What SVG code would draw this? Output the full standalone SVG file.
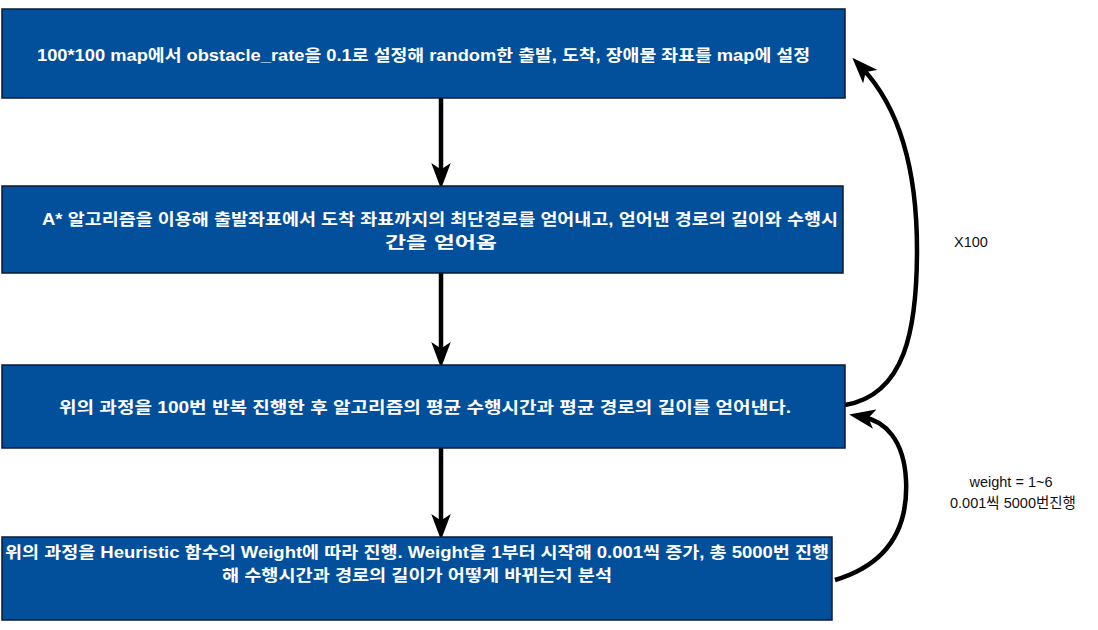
<svg xmlns="http://www.w3.org/2000/svg" width="1098" height="630" viewBox="0 0 1098 630">
<style>
.box{fill:#024f9b;stroke:#0a1a33;stroke-width:1.5}
.t{font-family:"Liberation Sans","Noto Sans CJK KR",sans-serif;font-weight:bold;font-size:16px;fill:#ffffff}
.lbl{font-family:"Liberation Sans","Noto Sans CJK KR",sans-serif;font-size:14.5px;fill:#111111;text-anchor:middle}
.e{fill:none;stroke:#000000;stroke-width:4.5}
</style>
<defs>
<marker id="ah" markerUnits="userSpaceOnUse" markerWidth="26" markerHeight="20" refX="11" refY="9" orient="auto" viewBox="0 0 24 18">
<path d="M0,0 L24,9 L0,18 L6,9 z" fill="#000000"/>
</marker>
</defs>
<g id="connectors">
<path class="e" d="M441,98 L441,175" marker-end="url(#ah)"/>
<path class="e" d="M441,273 L441,354" marker-end="url(#ah)"/>
<path class="e" d="M441,448 L441,526" marker-end="url(#ah)"/>
<path class="e" d="M845,405 C905,395 917,330 917,250 C917,165 897,105 862,68" marker-end="url(#ah)"/>
<path class="e" d="M835,580 C895,562 908,520 906,480 C904,440 885,421 863,417" marker-end="url(#ah)"/>
<text class="lbl" x="971" y="247">X100</text>
<text class="lbl" x="1011" y="487">weight = 1~6</text>
<text class="lbl" x="1013" y="508">0.001씩 5000번진행</text>
</g>
<g id="node1">
<rect class="box" x="2" y="9" width="843" height="89"/>
<text class="t" x="37" y="61" textLength="773" lengthAdjust="spacingAndGlyphs">100*100 map에서 obstacle_rate을 0.1로 설정해 random한 출발, 도착, 장애물 좌표를 map에 설정</text>
</g>
<g id="node2">
<rect class="box" x="2" y="186" width="841" height="87"/>
<text class="t" x="42" y="225" textLength="796" lengthAdjust="spacingAndGlyphs">A* 알고리즘을 이용해 출발좌표에서 도착 좌표까지의 최단경로를 얻어내고, 얻어낸 경로의 길이와 수행시</text>
<text class="t" x="385" y="248" textLength="112" lengthAdjust="spacingAndGlyphs">간을 얻어옴</text>
</g>
<g id="node3">
<rect class="box" x="2" y="365" width="843" height="83"/>
<text class="t" x="59" y="413" textLength="732" lengthAdjust="spacingAndGlyphs">위의 과정을 100번 반복 진행한 후 알고리즘의 평균 수행시간과 평균 경로의 길이를 얻어낸다.</text>
</g>
<g id="node4">
<rect class="box" x="2" y="537" width="830" height="83"/>
<text class="t" x="5" y="558" textLength="824" lengthAdjust="spacingAndGlyphs">위의 과정을 Heuristic 함수의 Weight에 따라 진행. Weight을 1부터 시작해 0.001씩 증가, 총 5000번 진행</text>
<text class="t" x="222" y="581" textLength="390" lengthAdjust="spacingAndGlyphs">해 수행시간과 경로의 길이가 어떻게 바뀌는지 분석</text>
</g>
</svg>
